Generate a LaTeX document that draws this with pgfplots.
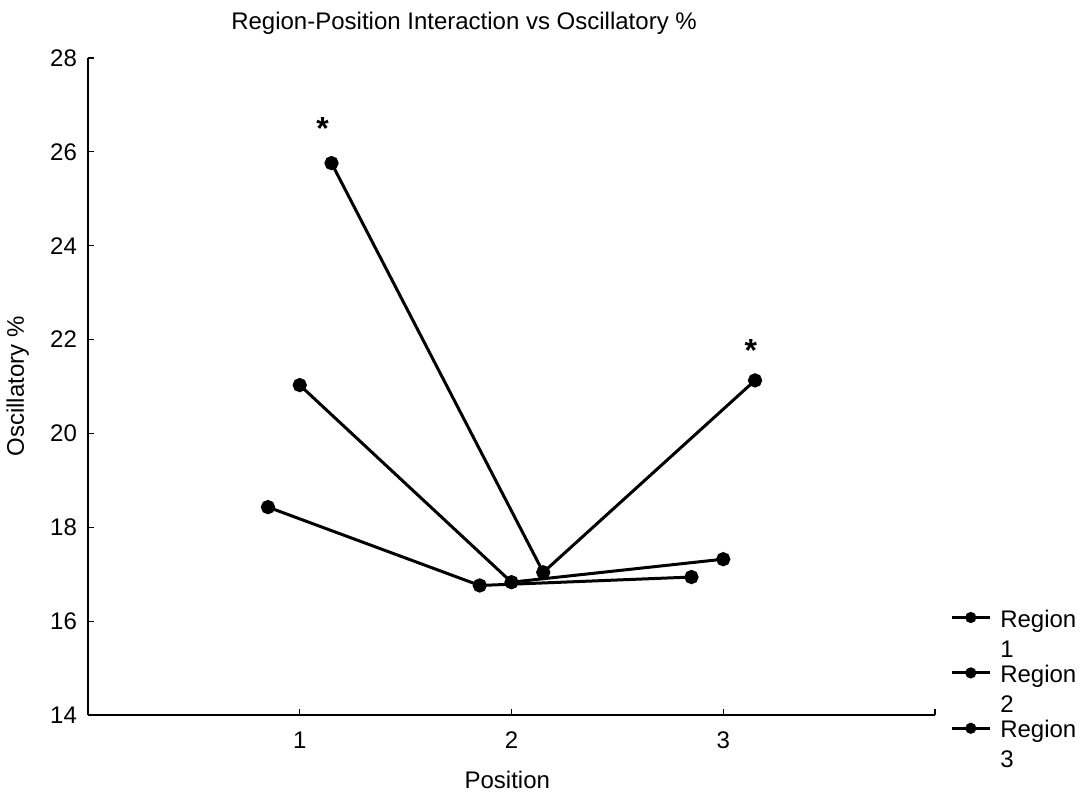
\documentclass[border=0pt]{standalone}
\usepackage{fontspec}
\setmainfont{Liberation Sans}
\usepackage{pgfplots}
\pgfplotsset{compat=1.18}
\begin{document}
\begin{tikzpicture}
\useasboundingbox (0,0) rectangle (540pt,396.5pt);
\begin{axis}[
  at={(44pt,39pt)}, anchor=south west,
  scale only axis, width=423.5pt, height=328.5pt,
  xmin=0, xmax=4, ymin=14, ymax=28,
  axis lines=left, axis line style={-, line width=0.9pt},
  tick align=inside, major tick length=3pt,
  xtick={1,2,3,4}, xticklabels={1,2,3,{}},
  ytick={14,16,...,28},
  tick style={black, line width=0.6pt},
  /pgf/number format/assume math mode=true,
  ticklabel style={font=\fontsize{12}{14}\selectfont},
  xticklabel style={yshift=-5pt},
  yticklabel style={xshift=-2pt},
  every axis title shift=0pt,
  title={Region-Position Interaction vs Oscillatory \%},
  title style={at={(axis description cs:0.444,1.053)}, anchor=center, font=\fontsize{12}{14}\selectfont},
  xlabel={Position},
  xlabel style={at={(axis description cs:0.495,-0.099)}, anchor=center, font=\fontsize{12}{14}\selectfont},
  ylabel={Oscillatory \%},
  ylabel style={at={(axis description cs:-0.083,0.5)}, anchor=center, font=\fontsize{12}{14}\selectfont},
  legend style={at={(axis description cs:1.0105,0.17)}, anchor=north west, draw=none, fill=none,
    font=\fontsize{12}{15}\selectfont, cells={anchor=north west},
    nodes={align=left, inner sep=1pt, yshift=5.1pt}, row sep=0.5pt, column sep=3.5pt},
  legend image code/.code={
    \draw[mark repeat=2, mark phase=2, mark size=2pt]
      plot coordinates {(0pt,0pt) (9.5pt,0pt) (19pt,0pt)};},
  region/.style={black, solid, line width=1.5pt, mark=*, mark size=2.8pt,
    mark options={solid, fill=black}},
]
% Region 1 (shifted left of each position)
\addplot[region] coordinates {(0.85,18.43) (1.85,16.76) (2.85,16.94)};
\addlegendentry{Region\\1}
% Region 2 (centred on each position)
\addplot[region] coordinates {(1,21.03) (2,16.83) (3,17.32)};
\addlegendentry{Region\\2}
% Region 3 (shifted right of each position)
\addplot[region] coordinates {(1.15,25.76) (2.15,17.04) (3.15,21.13)};
\addlegendentry{Region\\3}
% significance markers
\node[anchor=base, font=\fontsize{16}{16}\selectfont\bfseries] at (axis cs:1.108,26.27) {*};
\node[anchor=base, font=\fontsize{16}{16}\selectfont\bfseries] at (axis cs:3.13,21.53) {*};
\end{axis}
\end{tikzpicture}
\end{document}
